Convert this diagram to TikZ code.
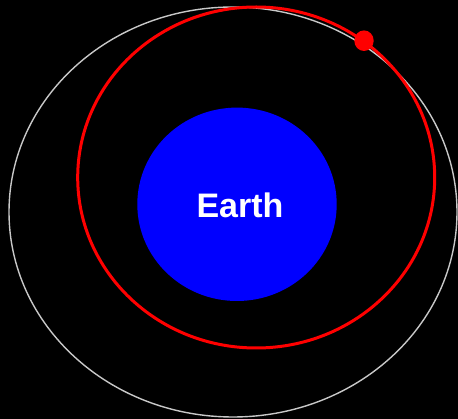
\documentclass[tikz,border=0pt]{standalone}
\usepackage{fontspec}
\setmainfont{Liberation Sans}
\begin{document}
\begin{tikzpicture}[x=1pt,y=-1pt,
  orbitgray/.style={draw={rgb,255:red,200;green,200;blue,200},line width=1.4pt},
  orbitred/.style={draw=red,line width=3pt},
  planet/.style={fill={rgb,255:red,0;green,0;blue,255},draw=none},
  sat/.style={fill=red,draw=none}]
\fill[black] (0,0) rectangle (458,419);
\useasboundingbox (0,0) rectangle (458,419);
\draw[orbitgray] (233,212) ellipse [x radius=224, y radius=205];
\fill[planet] (237,204.3) ellipse [x radius=99.7, y radius=96.7];
\draw[orbitred] (256.2,177.5) ellipse [x radius=178.5, y radius=170.5];
\fill[sat] (364,40.7) ellipse [x radius=9.7, y radius=10.3];
\node[text=white,font=\fontsize{34}{34}\selectfont\bfseries,anchor=base,inner sep=0pt] (earth) at (240,217.3) {Earth};
\end{tikzpicture}
\end{document}
